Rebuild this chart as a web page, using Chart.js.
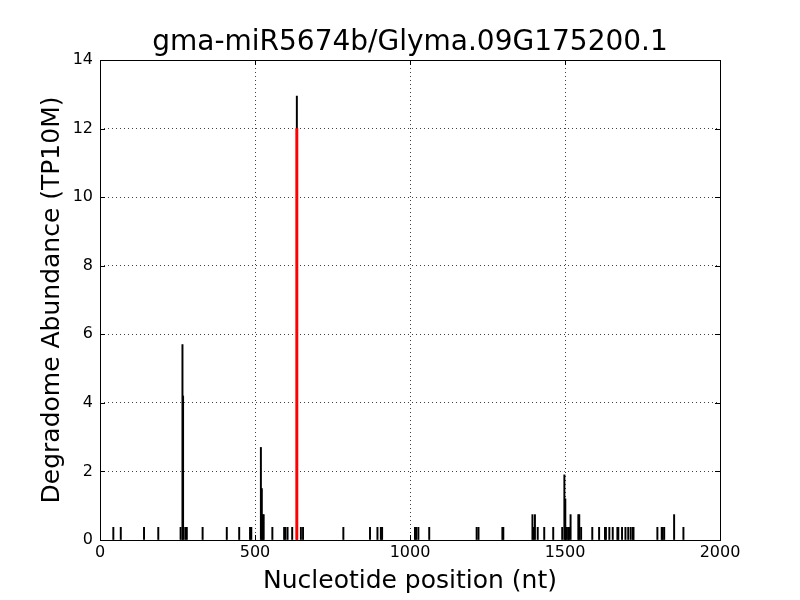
<!DOCTYPE html>
<html>
<head>
<meta charset="utf-8">
<script src="https://cdn.jsdelivr.net/npm/chart.js@4/dist/chart.umd.min.js"></script>
<style>
  html, body { margin: 0; padding: 0; background: #fff; }
  #wrap { width: 800px; height: 600px; }
</style>
</head>
<body>
<div id="wrap"><canvas id="degChart" width="800" height="600"></canvas></div>
<script>
const title = 'gma-miR5674b/Glyma.09G175200.1';
const xLabel = 'Nucleotide position (nt)';
const yLabel = 'Degradome Abundance (TP10M)';

// degradome reads (nt position, TP10M)
const positions = [43, 67, 142, 188, 260, 266, 268, 275, 280, 331, 409, 449, 484, 488,
    519, 522, 525, 528, 556, 594, 598, 605, 620, 635, 648, 655, 785, 871, 895, 906, 910,
    1016, 1020, 1027, 1062, 1215, 1221, 1298, 1301, 1395, 1398, 1403, 1412, 1433, 1462,
    1491, 1498, 1501, 1505, 1510, 1513, 1518, 1543, 1546, 1552, 1588, 1610, 1629, 1632,
    1643, 1654, 1669, 1672, 1684, 1695, 1704, 1712, 1719, 1721, 1798, 1812, 1815, 1820,
    1852, 1882];
const abundance = [0.37, 0.37, 0.37, 0.37, 0.37, 5.7, 4.2, 0.37, 0.37, 0.37, 0.37, 0.37, 0.37, 0.37,
    2.7, 1.5, 0.74, 0.74, 0.37, 0.37, 0.37, 0.37, 0.37, 12.95, 0.37, 0.37, 0.37, 0.37, 0.37, 0.37, 0.37,
    0.37, 0.37, 0.37, 0.37, 0.37, 0.37, 0.37, 0.37, 0.74, 0.37, 0.74, 0.37, 0.37, 0.37,
    0.37, 1.9, 1.2, 0.37, 0.37, 0.37, 0.74, 0.74, 0.74, 0.37, 0.37, 0.37, 0.37, 0.37,
    0.37, 0.37, 0.37, 0.37, 0.37, 0.37, 0.37, 0.37, 0.37, 0.37, 0.37, 0.37, 0.37, 0.37,
    0.74, 0.37];

// predicted cleavage site
const sitePositions = [635];
const siteAbundance = [12.0];

const xTicks = [0, 500, 1000, 1500, 2000];
const yTicks = [0, 2, 4, 6, 8, 10, 12, 14];

const FONT = 'DejaVu Sans';

// matplotlib-ish frame with inward ticks on all four sides
const framePlugin = {
    id: 'frame',
    afterDraw(chart) {
        const { ctx, chartArea: a, scales } = chart;
        ctx.save();
        ctx.strokeStyle = '#000';
        ctx.lineWidth = 1;
        ctx.strokeRect(Math.round(a.left) + 0.5, Math.round(a.top) + 0.5,
            Math.round(a.right - a.left), Math.round(a.bottom - a.top));
        ctx.beginPath();
        xTicks.forEach(v => {
            const x = Math.round(scales.x.getPixelForValue(v)) + 0.5;
            ctx.moveTo(x, a.bottom); ctx.lineTo(x, a.bottom - 5);
            ctx.moveTo(x, a.top); ctx.lineTo(x, a.top + 5);
        });
        yTicks.forEach(v => {
            const y = Math.round(scales.y.getPixelForValue(v)) + 0.5;
            ctx.moveTo(a.left, y); ctx.lineTo(a.left + 5, y);
            ctx.moveTo(a.right, y); ctx.lineTo(a.right - 5, y);
        });
        ctx.stroke();
        ctx.restore();
    }
};

const edgeless = (ctx) => {
    const n = ctx.scale.ticks.length;
    return (ctx.index === 0 || ctx.index === n - 1) ? 'rgba(0,0,0,0)' : 'rgba(0,0,0,0.75)';
};

new Chart(document.getElementById('degChart'), {
    type: 'bar',
    data: {
        datasets: [
            {
                label: 'site',
                data: sitePositions.map((p, i) => ({ x: p, y: siteAbundance[i] })),
                backgroundColor: '#ff0000',
                barThickness: 2.2,
                grouped: false,
                order: 0
            },
            {
                label: 'reads',
                data: positions.map((p, i) => ({ x: p, y: abundance[i] })),
                backgroundColor: '#000000',
                barThickness: 1.3,
                grouped: false,
                order: 1
            }
        ]
    },
    options: {
        responsive: false,
        animation: false,
        layout: { padding: { left: 37, right: 80, top: 0, bottom: 0 } },
        plugins: {
            legend: { display: false },
            tooltip: { enabled: false },
            title: {
                display: true,
                text: title,
                fullSize: false,
                color: '#000',
                font: { family: FONT, size: 28, weight: 'normal' },
                padding: { top: 26, bottom: 0.4 }
            }
        },
        scales: {
            x: {
                type: 'linear',
                min: 0,
                max: 2000,
                offset: false,
                afterFit: s => { s.height = 60; },
                ticks: {
                    stepSize: 500,
                    color: '#000',
                    font: { family: FONT, size: 16 },
                    padding: 3,
                    maxRotation: 0,
                    callback: v => String(v)
                },
                grid: { color: edgeless, lineWidth: 1, drawTicks: false, offset: false },
                border: { display: false, dash: [1, 3] },
                title: {
                    display: true,
                    text: xLabel,
                    color: '#000',
                    font: { family: FONT, size: 25 },
                    padding: { top: 2, bottom: 4 }
                }
            },
            y: {
                min: 0,
                max: 14,
                afterFit: s => { s.width = 63; },
                ticks: {
                    stepSize: 2,
                    color: '#000',
                    font: { family: FONT, size: 16 },
                    padding: 7,
                    callback: v => String(v)
                },
                grid: { color: edgeless, lineWidth: 1, drawTicks: false },
                border: { display: false, dash: [1, 3] },
                title: {
                    display: true,
                    text: yLabel,
                    color: '#000',
                    font: { family: FONT, size: 25 },
                    padding: { top: 0, bottom: 0 }
                }
            }
        }
    },
    plugins: [framePlugin]
});
</script>
</body>
</html>
